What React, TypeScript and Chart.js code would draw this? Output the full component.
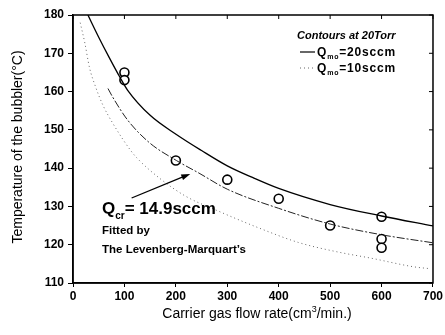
import { useEffect, useRef } from 'react';
import { Chart, registerables } from 'chart.js';

Chart.register(...registerables);

const FONT = '"Liberation Sans", Arial, sans-serif';

// measured bubbler temperatures (open circles)
const measuredFlow = [100, 100, 200, 300, 400, 500, 600, 600, 600];
const measuredTemp = [165, 163, 142, 137, 132, 125, 127.3, 121.5, 119.2];

// contour Q_mo = 20 sccm (solid)
const qmo20Flow = [29, 50, 70, 91, 106, 150, 201, 250, 300, 350, 400, 500, 600, 700];
const qmo20Temp = [180, 174.2, 169, 163.8, 160.4, 153.8, 148.8, 144.6, 140.6, 137.5, 134.7, 130.5, 127.5, 124.9];

// fitted Q_cr = 14.9 sccm (dash-dot)
const fitFlow = [68, 77, 106, 149, 201, 245, 300, 400, 500, 600, 700];
const fitTemp = [160.8, 158.6, 152.6, 146.6, 142, 138.7, 134.5, 129.5, 125.4, 122.6, 120.5];

// contour Q_mo = 10 sccm (dotted)
const qmo10Flow = [14, 23, 32, 44, 58, 77, 110, 124, 168, 220, 284, 361, 438, 515, 579, 664, 690];
const qmo10Temp = [178, 172.7, 166.3, 161.2, 156.5, 151.8, 145, 142.7, 137.4, 132.6, 128.7, 124.4, 120.6, 118.1, 116.5, 114.2, 113.8];

const xTickValues = [0, 100, 200, 300, 400, 500, 600, 700];
const yTickValues = [110, 120, 130, 140, 150, 160, 170, 180];

// annotation arrow (data coords): from label to fitted curve
const arrowFrom = { x: 114, y: 132.2 };
const arrowTo = { x: 228, y: 138.5 };

const pts = (xs: number[], ys: number[]) => xs.map((x, i) => ({ x, y: ys[i] }));

function drawSub(ctx: CanvasRenderingContext2D, x: number, y: number, main: string, sub: string, rest: string, size: number, subSize: number, weight: string, spacing = 0) {
  ctx.font = `${weight} ${size}px ${FONT}`;
  (ctx as any).letterSpacing = `${spacing}px`;
  ctx.fillText(main, x, y);
  let cx = x + ctx.measureText(main).width;
  ctx.font = `${weight} ${subSize}px ${FONT}`;
  ctx.fillText(sub, cx, y + size * 0.28);
  cx += ctx.measureText(sub).width;
  ctx.font = `${weight} ${size}px ${FONT}`;
  ctx.fillText(rest, cx, y);
  (ctx as any).letterSpacing = '0px';
}

const decor = {
  id: 'decor',
  afterDraw(chart: any) {
    const ctx: CanvasRenderingContext2D = chart.ctx;
    const { left, right, top, bottom } = chart.chartArea;
    const xs = chart.scales.x;
    const ys = chart.scales.y;
    ctx.save();
    ctx.strokeStyle = '#000';
    ctx.fillStyle = '#000';
    ctx.lineWidth = 1.5;
    ctx.strokeRect(left, top, right - left, bottom - top);
    ctx.lineWidth = 1;
    ctx.beginPath();
    yTickValues.forEach((v) => {
      const y = ys.getPixelForValue(v);
      ctx.moveTo(right - 4, y);
      ctx.lineTo(right, y);
    });
    xTickValues.forEach((v) => {
      const x = xs.getPixelForValue(v);
      ctx.moveTo(x, top);
      ctx.lineTo(x, top + 4);
    });
    ctx.stroke();

    // arrow
    const ax = xs.getPixelForValue(arrowFrom.x);
    const ay = ys.getPixelForValue(arrowFrom.y);
    const bx = xs.getPixelForValue(arrowTo.x);
    const by = ys.getPixelForValue(arrowTo.y);
    const ang = Math.atan2(by - ay, bx - ax);
    ctx.lineWidth = 1.3;
    ctx.beginPath();
    ctx.moveTo(ax, ay);
    ctx.lineTo(bx - 6 * Math.cos(ang), by - 6 * Math.sin(ang));
    ctx.stroke();
    ctx.beginPath();
    ctx.moveTo(bx, by);
    ctx.lineTo(bx - 9 * Math.cos(ang) + 3 * Math.sin(ang), by - 9 * Math.sin(ang) - 3 * Math.cos(ang));
    ctx.lineTo(bx - 9 * Math.cos(ang) - 3 * Math.sin(ang), by - 9 * Math.sin(ang) + 3 * Math.cos(ang));
    ctx.closePath();
    ctx.fill();

    // texts
    ctx.textBaseline = 'alphabetic';
    ctx.textAlign = 'left';
    ctx.font = `italic bold 11px ${FONT}`;
    ctx.fillText('Contours at 20Torr', 297, 39);

    ctx.lineWidth = 1.2;
    ctx.beginPath();
    ctx.moveTo(300, 52);
    ctx.lineTo(315, 52);
    ctx.stroke();
    drawSub(ctx, 317, 56, 'Q', 'mo', '=20sccm', 12, 7, 'bold', 0.8);

    ctx.setLineDash([1, 3]);
    ctx.strokeStyle = '#666';
    ctx.lineWidth = 1;
    ctx.beginPath();
    ctx.moveTo(300, 68);
    ctx.lineTo(315, 68);
    ctx.stroke();
    ctx.setLineDash([]);
    ctx.strokeStyle = '#000';
    drawSub(ctx, 317, 72, 'Q', 'mo', '=10sccm', 12, 7, 'bold', 0.8);

    drawSub(ctx, 102, 214, 'Q', 'cr', '= 14.9sccm', 17, 10, 'bold');
    ctx.font = `bold 11.5px ${FONT}`;
    ctx.fillText('Fitted by', 102, 234);
    ctx.fillText('The Levenberg-Marquart\u2019s', 102, 253);

    // axis titles
    ctx.font = `14px ${FONT}`;
    ctx.save();
    ctx.translate(22, 147);
    ctx.rotate(-Math.PI / 2);
    ctx.textAlign = 'center';
    ctx.fillText('Temperature of the bubbler(\u00B0C)', 0, 0);
    ctx.restore();

    const p1 = 'Carrier gas flow rate(cm';
    const p2 = '3';
    const p3 = '/min.)';
    ctx.font = `14px ${FONT}`;
    const w1 = ctx.measureText(p1).width;
    const w3 = ctx.measureText(p3).width;
    ctx.font = `9px ${FONT}`;
    const w2 = ctx.measureText(p2).width;
    const total = w1 + w2 + w3;
    let x0 = 257 - total / 2;
    const base = 318;
    ctx.font = `14px ${FONT}`;
    ctx.fillText(p1, x0, base);
    x0 += w1;
    ctx.font = `9px ${FONT}`;
    ctx.fillText(p2, x0, base - 6);
    x0 += w2;
    ctx.font = `14px ${FONT}`;
    ctx.fillText(p3, x0, base);
    ctx.restore();
  },
};

export default function App() {
  const ref = useRef<HTMLCanvasElement | null>(null);
  useEffect(() => {
    if (!ref.current) return;
    const chart = new Chart(ref.current, {
      type: 'scatter',
      data: {
        datasets: [
          {
            label: 'Qmo=20sccm',
            data: pts(qmo20Flow, qmo20Temp),
            showLine: true,
            borderColor: '#000',
            borderWidth: 1.3,
            pointRadius: 0,
            cubicInterpolationMode: 'monotone',
          },
          {
            label: 'Qcr fit',
            data: pts(fitFlow, fitTemp),
            showLine: true,
            borderColor: '#222',
            borderWidth: 1,
            borderDash: [8, 2, 2, 2],
            pointRadius: 0,
            cubicInterpolationMode: 'monotone',
          },
          {
            label: 'Qmo=10sccm',
            data: pts(qmo10Flow, qmo10Temp),
            showLine: true,
            borderColor: '#666',
            borderWidth: 1,
            borderDash: [1, 3],
            pointRadius: 0,
            cubicInterpolationMode: 'monotone',
          },
          {
            label: 'measured',
            data: pts(measuredFlow, measuredTemp),
            showLine: false,
            pointRadius: 4.5,
            pointBorderWidth: 1.6,
            pointBorderColor: '#000',
            pointBackgroundColor: '#fff',
          },
        ],
      } as any,
      options: {
        animation: false,
        responsive: false,
        layout: { padding: { top: 15, right: 10, left: 0, bottom: 0 } },
        plugins: { legend: { display: false }, tooltip: { enabled: false } },
        scales: {
          x: {
            type: 'linear',
            min: 0,
            max: 700,
            afterBuildTicks: (s: any) => { s.ticks = xTickValues.map((v) => ({ value: v })); },
            afterFit: (s: any) => { s.height = 52; },
            grid: { drawOnChartArea: false, color: '#000', tickLength: 4 },
            border: { display: true, color: '#000', width: 1.5 },
            ticks: { color: '#000', font: { family: FONT, size: 12, weight: 'bold' }, padding: 2, maxRotation: 0 },
          },
          y: {
            type: 'linear',
            min: 110,
            max: 180,
            afterBuildTicks: (s: any) => { s.ticks = yTickValues.map((v) => ({ value: v })); },
            afterFit: (s: any) => { s.width = 73; },
            grid: { drawOnChartArea: false, color: '#000', tickLength: 5 },
            border: { display: true, color: '#000', width: 1.5 },
            ticks: { color: '#000', font: { family: FONT, size: 12, weight: 'bold' }, padding: 4 },
          },
        },
      } as any,
      plugins: [decor],
    });
    return () => chart.destroy();
  }, []);
  return (
    <div style={{ position: 'fixed', left: 0, top: 0, width: 445, height: 335, background: '#fff' }}>
      <canvas ref={ref} width={445} height={335} style={{ display: 'block' }} />
    </div>
  );
}
